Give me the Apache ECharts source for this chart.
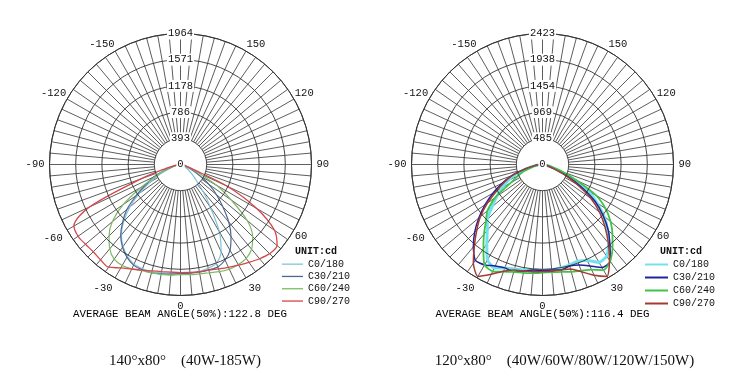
<!DOCTYPE html>
<html><head><meta charset="utf-8">
<script src="https://cdn.jsdelivr.net/npm/echarts@6/dist/echarts.min.js"></script>
<style>html,body{margin:0;padding:0;background:#fff}#c{width:739px;height:381px}</style>
</head><body><div id="c"></div>
<script>
// gamma angles (deg from nadir), shared by all curves
const angles = [-90,-85,-80,-75,-70,-65,-60,-55,-50,-45,-40,-35,-30,-25,-20,-15,-10,-5,0,5,10,15,20,25,30,35,40,45,50,55,60,65,70,75,80,85,90];
const legendNames = ['C0/180','C30/210','C60/240','C90/270'];

// Left diagram (cd)
const leftMax = 1964;
const leftC0  = [0,20,45,90,180,330,525,750,990,1200,1380,1500,1590,1650,1665,1665,1650,1635,1635,1635,1628,1612,1575,1440,1170,780,525,330,225,150,90,60,30,20,15,5,0];
const leftC30 = [0,15,45,120,270,450,600,810,1050,1230,1395,1515,1605,1665,1680,1680,1665,1650,1635,1635,1635,1635,1635,1580,1485,1320,1125,900,705,525,330,180,90,45,15,5,0];
const leftC60 = [0,30,75,150,255,400,675,1050,1335,1515,1650,1733,1748,1725,1695,1680,1673,1665,1650,1658,1665,1680,1710,1733,1733,1718,1658,1530,1305,930,630,300,150,75,45,15,0];
const leftC90 = [0,30,90,225,630,1500,1845,1875,1860,1850,1865,1880,1790,1730,1685,1650,1630,1620,1620,1625,1635,1640,1665,1700,1740,1790,1845,1890,1890,1720,1320,780,180,90,60,30,0];
const leftBeam = 'AVERAGE BEAM ANGLE(50%):122.8 DEG';
const leftCaption = '140°x80°    (40W-185W)';

// Right diagram (cd)
const rightMax = 2423;
const rightC0  = [0,55,148,315,520,700,870,1035,1220,1445,1590,1795,2035,2110,2035,2000,1980,1960,1960,1960,1940,1925,1905,1960,2090,2070,1905,1700,1480,1220,960,590,295,150,55,20,0];
const rightC30 = [0,74,166,350,610,830,1055,1295,1535,1775,1990,2165,2145,2070,2035,2055,2000,1960,1960,1960,1980,1945,1980,2070,2200,2185,1940,1720,1460,1185,830,500,240,110,55,20,0];
const rightC60 = [0,55,130,220,370,500,680,1070,1330,1480,1685,1905,2145,2180,2110,2055,2035,2015,2000,2000,2015,2055,2090,2145,2255,2185,2015,1830,1645,1425,1145,700,405,185,75,20,0];
const rightC90 = [0,74,170,350,610,780,980,1240,1500,1720,1960,2230,2390,2240,2100,2020,2000,1990,1980,1980,1980,2000,2110,2260,2390,2160,1895,1635,1380,1090,740,460,220,110,55,20,0];
const rightBeam = 'AVERAGE BEAM ANGLE(50%):116.4 DEG';
const rightCaption = '120°x80°    (40W/60W/80W/120W/150W)';

const outerLabels = [120,150,-120,-150,60];
const innerLabels = [0,30,-30,-60,90,-90];

const MONO = 'Liberation Mono';
const gridColor = '#333';

function angleAxisMain(pi){
  return {polarIndex:pi,type:'value',min:-180,max:180,interval:5,startAngle:90,clockwise:false,
    axisLine:{show:true,lineStyle:{color:gridColor,width:1}},axisTick:{show:false},splitLine:{show:false},
    axisLabel:{margin:1,color:'#111',fontFamily:MONO,fontSize:10.5,
      formatter:v=>outerLabels.indexOf(v)>=0?String(v):''}};
}
function angleAxisSpokes(pi){
  return {polarIndex:pi,type:'value',min:-180,max:180,interval:5,startAngle:90,clockwise:false,
    axisLine:{show:false},axisTick:{show:false},
    splitLine:{show:true,lineStyle:{color:gridColor,width:0.8}},
    axisLabel:{margin:5,color:'#111',fontFamily:MONO,fontSize:10.5,
      formatter:v=>innerLabels.indexOf(v)>=0?String(v):''}};
}
function radiusAxisMain(pi,max){
  return {polarIndex:pi,type:'value',min:0,max:max,interval:max/5,z:5,
    axisLine:{show:false},axisTick:{show:false},
    splitLine:{show:true,lineStyle:{color:gridColor,width:0.9}},
    axisLabel:{show:true,margin:0,align:'center',verticalAlign:'middle',color:'#111',
      fontFamily:MONO,fontSize:10.5,lineHeight:10,backgroundColor:'#fff',padding:[0,1,2,1],
      showMinLabel:true,showMaxLabel:true,formatter:v=>String(Math.round(v))}};
}
function radiusAxisHidden(pi){
  return {polarIndex:pi,type:'value',min:0,max:1,show:false};
}
function curve(name,values,color,width,pi,smooth){
  return {type:'line',name:name,coordinateSystem:'polar',polarIndex:pi,
    data:angles.map((a,i)=>[values[i],a]),symbol:'none',smooth:smooth,clip:false,
    lineStyle:{color:color,width:width},itemStyle:{color:color},z:3};
}

const leftColors = ['#80c4dc','#4c6796','#7dbb64','#d4474a'];
const rightColors = ['#72e2ee','#22229c','#40c448','#a33a34'];
const rightWidths = [3,1.5,1.8,1.5];

const option = {
  animation:false,
  backgroundColor:'#fff',
  title:[
    {text:'UNIT:cd',left:295,top:245,padding:0,textStyle:{fontFamily:MONO,fontWeight:'bold',fontSize:10,lineHeight:12,color:'#111'}},
    {text:'UNIT:cd',left:660,top:245,padding:0,textStyle:{fontFamily:MONO,fontWeight:'bold',fontSize:10,lineHeight:12,color:'#111'}},
    {text:leftBeam,left:180,top:308,textAlign:'center',padding:0,textStyle:{fontFamily:MONO,fontWeight:'normal',fontSize:10.8,lineHeight:12,color:'#000'}},
    {text:rightBeam,left:542.5,top:308,textAlign:'center',padding:0,textStyle:{fontFamily:MONO,fontWeight:'normal',fontSize:10.8,lineHeight:12,color:'#000'}},
    {text:leftCaption,left:185,top:352,textAlign:'center',padding:0,textStyle:{fontFamily:'Liberation Serif',fontWeight:'normal',fontSize:15,lineHeight:18,color:'#111'}},
    {text:rightCaption,left:564.5,top:352,textAlign:'center',padding:0,textStyle:{fontFamily:'Liberation Serif',fontWeight:'normal',fontSize:15,lineHeight:18,color:'#111'}}
  ],
  legend:[
    {orient:'vertical',left:282,top:258,padding:0,icon:'rect',itemWidth:21,itemHeight:1.3,itemGap:0,selectedMode:false,
      data:legendNames.map(n=>'L:'+n),formatter:n=>n.slice(2),
      textStyle:{fontFamily:MONO,fontSize:10,lineHeight:12.3,color:'#111'}},
    {orient:'vertical',left:645,top:258,padding:0,icon:'rect',itemWidth:23,itemHeight:2,itemGap:0,selectedMode:false,
      data:legendNames.map(n=>'R:'+n),formatter:n=>n.slice(2),
      textStyle:{fontFamily:MONO,fontSize:10,lineHeight:13,color:'#111'}}
  ],
  polar:[
    {center:[180.5,164.5],radius:[0,131]},
    {center:[180.5,164.5],radius:[26.2,131]},
    {center:[542.5,164.5],radius:[0,131]},
    {center:[542.5,164.5],radius:[26.2,131]}
  ],
  angleAxis:[angleAxisMain(0),angleAxisSpokes(1),angleAxisMain(2),angleAxisSpokes(3)],
  radiusAxis:[radiusAxisMain(0,leftMax),radiusAxisHidden(1),radiusAxisMain(2,rightMax),radiusAxisHidden(3)],
  series:[
    curve('L:'+legendNames[0],leftC0,leftColors[0],1.2,0,0.3),
    curve('L:'+legendNames[1],leftC30,leftColors[1],1.2,0,0.3),
    curve('L:'+legendNames[2],leftC60,leftColors[2],1.2,0,0.3),
    curve('L:'+legendNames[3],leftC90,leftColors[3],1.3,0,0.3),
    curve('R:'+legendNames[0],rightC0,rightColors[0],rightWidths[0],2,0.2),
    curve('R:'+legendNames[1],rightC30,rightColors[1],rightWidths[1],2,0.2),
    curve('R:'+legendNames[2],rightC60,rightColors[2],rightWidths[2],2,0.2),
    curve('R:'+legendNames[3],rightC90,rightColors[3],rightWidths[3],2,0.2)
  ]
};
const chart = echarts.init(document.getElementById('c'),null,{renderer:'canvas'});
chart.setOption(option);
</script></body></html>
